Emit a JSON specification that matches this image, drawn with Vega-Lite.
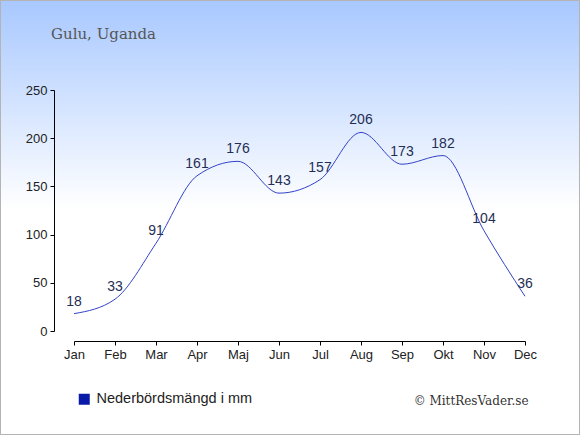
{
  "$schema": "https://vega.github.io/schema/vega-lite/v6.json",
  "width": 451,
  "height": 241,
  "autosize": {"type": "none"},
  "padding": {"left": 74, "top": 90, "right": 55, "bottom": 104},
  "background": "#ffffff",
  "title": {
    "text": "Gulu, Uganda",
    "anchor": "start",
    "frame": "group",
    "dx": -23,
    "offset": -53.5,
    "baseline": "alphabetic",
    "font": "DejaVu Serif",
    "fontSize": 15,
    "fontWeight": "normal",
    "color": "#555555"
  },
  "data": {
    "values": [
      {"month": "Jan", "m": 1, "mm": 18},
      {"month": "Feb", "m": 2, "mm": 33},
      {"month": "Mar", "m": 3, "mm": 91},
      {"month": "Apr", "m": 4, "mm": 161},
      {"month": "Maj", "m": 5, "mm": 176},
      {"month": "Jun", "m": 6, "mm": 143},
      {"month": "Jul", "m": 7, "mm": 157},
      {"month": "Aug", "m": 8, "mm": 206},
      {"month": "Sep", "m": 9, "mm": 173},
      {"month": "Okt", "m": 10, "mm": 182},
      {"month": "Nov", "m": 11, "mm": 104},
      {"month": "Dec", "m": 12, "mm": 36}
    ]
  },
  "encoding": {
    "x": {
      "field": "m",
      "type": "quantitative",
      "scale": {"domain": [1, 12], "nice": false, "zero": false},
      "axis": {
        "values": [1, 2, 3, 4, 5, 6, 7, 8, 9, 10, 11, 12],
        "labelExpr": "['Jan','Feb','Mar','Apr','Maj','Jun','Jul','Aug','Sep','Okt','Nov','Dec'][datum.value - 1]",
        "labelFlush": false,
        "labelOverlap": false,
        "offset": 10,
        "grid": false,
        "zindex": 1,
        "tickSize": 4,
        "labelPadding": 3,
        "title": "© MittResVader.se",
        "titleX": 454,
        "titleY": 63,
        "titleAlign": "right",
        "titleAnchor": "end",
        "titleBaseline": "alphabetic",
        "titleFont": "DejaVu Serif",
        "titleFontSize": 12,
        "titleFontWeight": "normal",
        "titleColor": "#333333"
      }
    },
    "y": {
      "field": "mm",
      "type": "quantitative",
      "scale": {"domain": [0, 250], "nice": false},
      "axis": {
        "values": [0, 50, 100, 150, 200, 250],
        "offset": 20,
        "grid": false,
        "zindex": 1,
        "tickSize": 4,
        "labelPadding": 3,
        "title": null
      }
    }
  },
  "layer": [
    {
      "mark": {
        "type": "rect",
        "stroke": "#b4b4b4",
        "strokeWidth": 1,
        "fill": {
          "gradient": "linear",
          "x1": 0, "y1": 0, "x2": 0, "y2": 1,
          "stops": [
            {"offset": 0, "color": "#a8c8ff"},
            {"offset": 0.48, "color": "#ffffff"},
            {"offset": 1, "color": "#ffffff"}
          ]
        }
      },
      "encoding": {
        "x": {"datum": -0.793, "type": "quantitative"},
        "x2": {"datum": 13.329},
        "y": {"datum": 342.84, "type": "quantitative"},
        "y2": {"datum": -107.37}
      }
    },
    {
      "mark": {"type": "line", "interpolate": "monotone", "strokeWidth": 1},
      "encoding": {
        "color": {
          "datum": "Nederbördsmängd i mm",
          "type": "nominal",
          "scale": {"range": ["#3342c8"]},
          "legend": {
            "title": null,
            "orient": "none",
            "legendX": 3,
            "legendY": 302,
            "symbolType": "square",
            "symbolSize": 121,
            "labelFont": "Liberation Sans",
            "labelFontSize": 14.5,
            "labelColor": "#222222",
            "labelOffset": 5,
            "encode": {
              "symbols": {
                "update": {
                  "fill": {"value": "#0a1aa8"},
                  "stroke": {"value": "#0a1aa8"},
                  "strokeWidth": {"value": 0},
                  "opacity": {"value": 1}
                }
              }
            }
          }
        }
      }
    },
    {
      "mark": {
        "type": "text",
        "dy": -8,
        "baseline": "alphabetic",
        "font": "Liberation Sans",
        "fontSize": 14,
        "color": "#1f2f55"
      },
      "encoding": {
        "text": {"field": "mm", "type": "quantitative"}
      }
    }
  ],
  "config": {
    "view": {"stroke": null},
    "axis": {
      "domainColor": "#000000",
      "tickColor": "#000000",
      "labelFont": "Liberation Sans",
      "labelFontSize": 13,
      "labelColor": "#222222"
    }
  }
}
